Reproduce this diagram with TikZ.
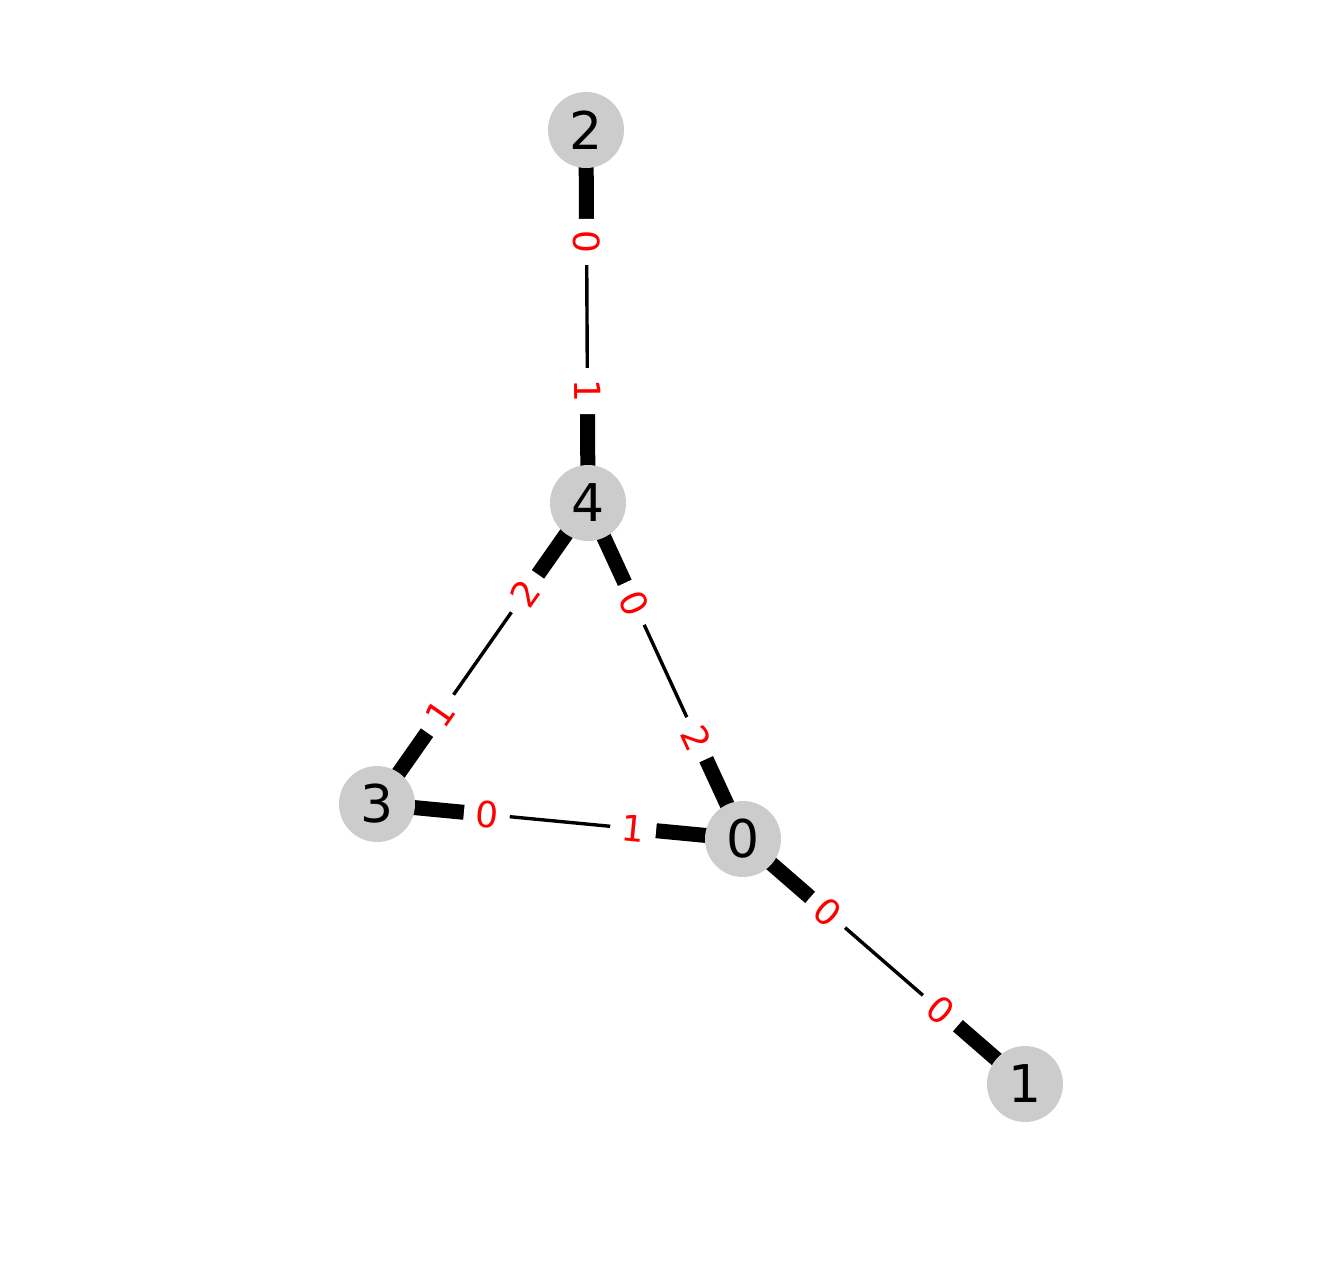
\documentclass[tikz,border=0pt]{standalone}
\usepackage{fontspec}
\setmainfont{DejaVu Sans}
\usetikzlibrary{calc,backgrounds}
\definecolor{nodegray}{HTML}{CCCCCC}
\begin{document}
\begin{tikzpicture}[x=0.5pt,y=-0.5pt,
  vertex/.style={circle,fill=nodegray,minimum size=38pt,inner sep=0pt,font=\fontsize{26}{26}\selectfont},
  thickseg/.style={line width=7.5pt},
  thinseg/.style={line width=1.7pt},
  elabel/.style={sloped,fill=white,text=red,inner sep=0pt,minimum width=23pt,minimum height=18pt,font=\fontsize{18}{18}\selectfont}]
\useasboundingbox (0,0) rectangle (1318,1274);
\node[vertex] (n2) at (586,130) {2};
\node[vertex] (n4) at (588,503) {4};
\node[vertex] (n3) at (377,804) {3};
\node[vertex] (n0) at (743,839) {0};
\node[vertex] (n1) at (1025,1084) {1};
\begin{pgfonlayer}{background}
\foreach \a/\b in {n2/n4,n4/n3,n4/n0,n3/n0,n0/n1}{
  \draw[thinseg] (\a.center) -- (\b.center);
  \draw[thickseg] (\a.center) -- ($(\a.center)!0.3!(\b.center)$);
  \draw[thickseg] (\b.center) -- ($(\b.center)!0.3!(\a.center)$);
}
\end{pgfonlayer}
\path (n2.center) -- (n4.center) node[elabel,pos=0.3]{0} node[elabel,pos=0.7]{1};
\path (n4.center) -- (n3.center) node[elabel,pos=0.3]{2} node[elabel,pos=0.7]{1};
\path (n4.center) -- (n0.center) node[elabel,pos=0.3]{0} node[elabel,pos=0.7]{2};
\path (n3.center) -- (n0.center) node[elabel,pos=0.3]{0} node[elabel,pos=0.7]{1};
\path (n0.center) -- (n1.center) node[elabel,pos=0.3]{0} node[elabel,pos=0.7]{0};
\end{tikzpicture}
\end{document}
